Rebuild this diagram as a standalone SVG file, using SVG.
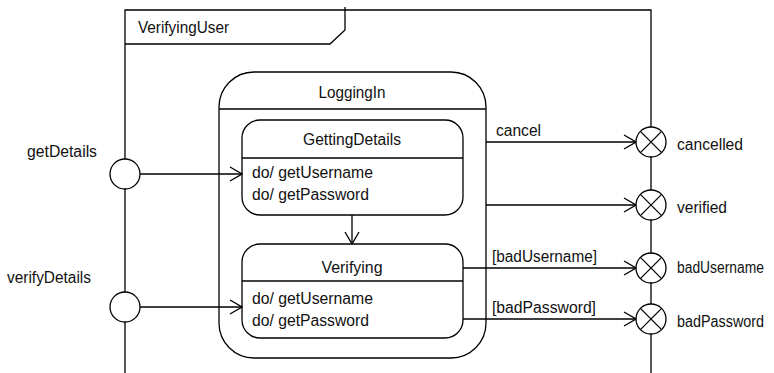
<svg xmlns="http://www.w3.org/2000/svg" width="774" height="373" viewBox="0 0 774 373">
<style>
.ln{fill:none;stroke:#000;stroke-width:1.3}
.st{fill:#fff;stroke:#000;stroke-width:1.3}
text{font-family:"Liberation Sans",Arial,sans-serif;font-size:16px;fill:#111}
.c{text-anchor:middle}
.sm{font-size:15.6px}
</style>
<defs>
<marker id="arr" markerWidth="14" markerHeight="16" refX="13" refY="8" orient="auto" markerUnits="userSpaceOnUse">
<path d="M1,1 L13,8 L1,15" fill="none" stroke="#000" stroke-width="1.3"/>
</marker>
<g id="xmark">
<circle r="15" class="st"/>
<path d="M-10.6,-10.6 L10.6,10.6 M-10.6,10.6 L10.6,-10.6" class="ln"/>
</g>
</defs>
<g id="VerifyingUser">
<path d="M125,373 L125,10 L651,10 L651,373" class="ln"/>
<path d="M125,44 L330,44 L345,30 L345,7" class="ln"/>
<text x="138" y="33" textLength="91" lengthAdjust="spacingAndGlyphs">VerifyingUser</text>
</g>
<g id="LoggingIn">
<rect x="219" y="72" width="267" height="286" rx="35" ry="35" class="st"/>
<line x1="219" y1="109" x2="486" y2="109" class="ln"/>
<text x="352" y="98" class="c" textLength="67" lengthAdjust="spacingAndGlyphs">LoggingIn</text>
</g>
<g id="GettingDetails">
<rect x="242" y="120" width="221" height="95" rx="18" ry="18" class="st"/>
<line x1="242" y1="158" x2="463" y2="158" class="ln"/>
<text x="352" y="145" class="c" textLength="98" lengthAdjust="spacingAndGlyphs">GettingDetails</text>
<text x="252" y="178" textLength="121" lengthAdjust="spacingAndGlyphs">do/ getUsername</text>
<text x="252" y="200" textLength="117" lengthAdjust="spacingAndGlyphs">do/ getPassword</text>
</g>
<g id="Verifying">
<rect x="242" y="244" width="221" height="94" rx="18" ry="18" class="st"/>
<line x1="242" y1="281" x2="463" y2="281" class="ln"/>
<text x="352" y="273" class="c" textLength="61" lengthAdjust="spacingAndGlyphs">Verifying</text>
<text x="252" y="304" textLength="121" lengthAdjust="spacingAndGlyphs">do/ getUsername</text>
<text x="252" y="326" textLength="117" lengthAdjust="spacingAndGlyphs">do/ getPassword</text>
</g>
<g id="connectors">
<line x1="140" y1="174" x2="242" y2="174" class="ln" marker-end="url(#arr)"/>
<line x1="140" y1="307" x2="242" y2="307" class="ln" marker-end="url(#arr)"/>
<line x1="352" y1="215" x2="352" y2="244" class="ln" marker-end="url(#arr)"/>
<line x1="486" y1="142" x2="636" y2="142" class="ln" marker-end="url(#arr)"/>
<line x1="486" y1="205" x2="636" y2="205" class="ln" marker-end="url(#arr)"/>
<line x1="463" y1="268" x2="636" y2="268" class="ln" marker-end="url(#arr)"/>
<line x1="463" y1="319" x2="636" y2="319" class="ln" marker-end="url(#arr)"/>
<text x="496" y="136" textLength="45" lengthAdjust="spacingAndGlyphs">cancel</text>
<text x="492" y="262" textLength="105" lengthAdjust="spacingAndGlyphs">[badUsername]</text>
<text x="492" y="313" textLength="104" lengthAdjust="spacingAndGlyphs">[badPassword]</text>
</g>
<g id="getDetails">
<circle cx="125" cy="174" r="15" class="st"/>
<text x="27" y="157" textLength="70" lengthAdjust="spacingAndGlyphs">getDetails</text>
</g>
<g id="verifyDetails">
<circle cx="125" cy="307" r="15" class="st"/>
<text x="7" y="283" textLength="84" lengthAdjust="spacingAndGlyphs">verifyDetails</text>
</g>
<g id="cancelled">
<use href="#xmark" x="651" y="142"/>
<text x="677" y="150" textLength="66" lengthAdjust="spacingAndGlyphs">cancelled</text>
</g>
<g id="verified">
<use href="#xmark" x="651" y="205"/>
<text x="677" y="213" textLength="50" lengthAdjust="spacingAndGlyphs">verified</text>
</g>
<g id="badUsername">
<use href="#xmark" x="651" y="268"/>
<text x="677" y="273" class="sm" textLength="87" lengthAdjust="spacingAndGlyphs">badUsername</text>
</g>
<g id="badPassword">
<use href="#xmark" x="651" y="319"/>
<text x="677" y="327" class="sm" textLength="87" lengthAdjust="spacingAndGlyphs">badPassword</text>
</g>
</svg>
